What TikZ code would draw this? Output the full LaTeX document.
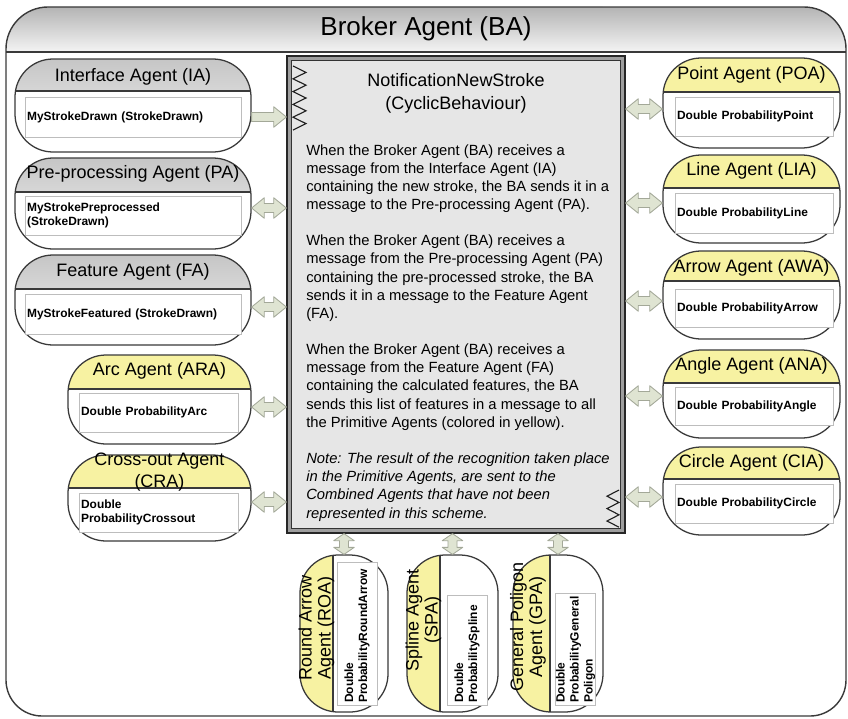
\documentclass[tikz,border=0pt]{standalone}
\usepackage{fontspec}
\setmainfont{Liberation Sans}
\usetikzlibrary{calc}

\definecolor{agentline}{HTML}{3A3A3A}
\definecolor{hdrgraytop}{HTML}{C6C6C6}
\definecolor{hdrgraybot}{HTML}{F3F3F3}
\definecolor{hdryellow}{HTML}{F7F2A2}
\definecolor{arrowfill}{HTML}{DFE4D2}
\definecolor{arrowline}{HTML}{A3A898}
\definecolor{boxline}{HTML}{BDBDBD}
\definecolor{behavfill}{HTML}{E6E6E6}
\definecolor{behavband}{HTML}{9E9E9E}
\definecolor{bandtop}{HTML}{B4B4B4}
\definecolor{bandbot}{HTML}{F4F4F4}

% block arrows between two points (#1 = head length)
\newcommand{\dblarrow}[3][9pt]{%
  \coordinate (s) at (#2); \coordinate (t) at (#3);
  \draw[blockarrow] (s) -- ($(s)!#1!(t)!7.3pt!90:(t)$) -- ($(s)!#1!(t)!3.2pt!90:(t)$)
    -- ($(t)!#1!(s)!3.2pt!-90:(s)$) -- ($(t)!#1!(s)!7.3pt!-90:(s)$) -- (t)
    -- ($(t)!#1!(s)!7.3pt!90:(s)$) -- ($(t)!#1!(s)!3.2pt!90:(s)$)
    -- ($(s)!#1!(t)!3.2pt!-90:(t)$) -- ($(s)!#1!(t)!7.3pt!-90:(t)$) -- cycle;}
\newcommand{\sglarrow}[3][9pt]{%
  \coordinate (s) at (#2); \coordinate (t) at (#3);
  \draw[blockarrow] ($(s)!3.2pt!90:(t)$)
    -- ($(t)!#1!(s)!3.2pt!-90:(s)$) -- ($(t)!#1!(s)!7.3pt!-90:(s)$) -- (t)
    -- ($(t)!#1!(s)!7.3pt!90:(s)$) -- ($(t)!#1!(s)!3.2pt!90:(s)$)
    -- ($(s)!3.2pt!-90:(t)$) -- cycle;}

\tikzset{
  sz/.style 2 args={minimum width=#1*0.025cm, minimum height=#2*0.025cm},
  agent/.style={draw=agentline, line width=0.9pt, fill=white, rounded corners=0.95cm, inner sep=0pt},
  graytop/.style={agent, path picture={
      \shade[sharp corners, top color=hdrgraytop, bottom color=hdrgraybot]
        (path picture bounding box.north west) rectangle ([yshift=-#1*0.025cm]path picture bounding box.north east);
      \draw[sharp corners, agentline, line width=0.9pt]
        ([yshift=-#1*0.025cm]path picture bounding box.north west) -- ([yshift=-#1*0.025cm]path picture bounding box.north east);}},
  yellowtop/.style={agent, path picture={
      \fill[sharp corners, hdryellow]
        (path picture bounding box.north west) rectangle ([yshift=-#1*0.025cm]path picture bounding box.north east);
      \draw[sharp corners, agentline, line width=0.9pt]
        ([yshift=-#1*0.025cm]path picture bounding box.north west) -- ([yshift=-#1*0.025cm]path picture bounding box.north east);}},
  yellowleft/.style={agent, path picture={
      \fill[sharp corners, hdryellow]
        (path picture bounding box.south west) rectangle ([xshift=#1*0.025cm]path picture bounding box.north west);
      \draw[sharp corners, agentline, line width=0.9pt]
        ([xshift=#1*0.025cm]path picture bounding box.south west) -- ([xshift=#1*0.025cm]path picture bounding box.north west);}},
  inbox/.style 2 args={draw=boxline, fill=white, line width=0.6pt, inner xsep=1.5pt, inner ysep=0pt,
      text width=#1*0.025cm-3pt, minimum height=#2*0.025cm, align=left,
      font=\fontsize{8.5}{10}\selectfont\bfseries},
  titletext/.style={inner sep=0pt, align=center, font=\fontsize{12.8}{16}\selectfont},
  sidetitle/.style={inner sep=0pt, align=center, rotate=90, font=\fontsize{12.8}{13.5}\selectfont},
  bodytext/.style={inner sep=0pt, anchor=base west, font=\fontsize{10.5}{12.9}\selectfont},
  behav/.style={draw=gray!30!black, fill=behavband, line width=0.9pt, inner sep=0pt},
  behavinner/.style={draw=gray!40!black, fill=behavfill, line width=0.7pt},
  blockarrow/.style={draw=arrowline, fill=arrowfill, line width=0.6pt, line join=round},
  zigzag/.style={draw=gray!25!black, line width=0.8pt},
}

\begin{document}
\begin{tikzpicture}[x=0.025cm, y=-0.025cm]
\useasboundingbox (0,0) rectangle (848,718);

% broker agent frame
\fill[white] (6,49) arc[start angle=180, end angle=90, radius=1.05cm] -- (804,7)
  arc[start angle=90, end angle=0, radius=1.05cm] -- (846,680)
  arc[start angle=0, end angle=-90, radius=0.9cm] -- (42,716)
  arc[start angle=270, end angle=180, radius=0.9cm] -- cycle;
\shade[top color=bandtop, bottom color=bandbot] (6,49) arc[start angle=180, end angle=90, radius=1.05cm] -- (804,7)
  arc[start angle=90, end angle=0, radius=1.05cm] -- (846,52) -- (6,52) -- cycle;
\draw[agentline, line width=0.9pt] (6,52) -- (846,52);
\draw[agentline, line width=1pt] (6,49) arc[start angle=180, end angle=90, radius=1.05cm] -- (804,7)
  arc[start angle=90, end angle=0, radius=1.05cm] -- (846,680)
  arc[start angle=0, end angle=-90, radius=0.9cm] -- (42,716)
  arc[start angle=270, end angle=180, radius=0.9cm] -- cycle;
\node[inner sep=0pt, font=\fontsize{18.5}{22}\selectfont] (BA) at (426,29) {Broker Agent (BA)};

% behaviour box
\node[behav, sz={338}{477}] (NNS) at (456,294.5) {};
\draw[behavinner] ([shift={(5,5)}]NNS.north west) rectangle ([shift={(-5,-5)}]NNS.south east);
\draw[zigzag] (293,66) \foreach \i in {1,...,5} { -- ++(13,6.4) -- ++(-13,6.4) };
\draw[zigzag] (619,490) \foreach \i in {1,...,3} { -- ++(-12,6.2) -- ++(12,6.2) };
\node[titletext] (NNS-t) at (456,93.5) {NotificationNewStroke\\(CyclicBehaviour)};
\foreach \txt [count=\i from 0] in {
    {When the Broker Agent (BA) receives a},
    {message from the Interface Agent (IA)},
    {containing the new stroke, the BA sends it in a},
    {message to the Pre-processing Agent (PA).},
    {},
    {When the Broker Agent (BA) receives a},
    {message from the Pre-processing Agent (PA)},
    {containing the pre-processed stroke, the BA},
    {sends it in a message to the Feature Agent},
    {(FA).},
    {},
    {When the Broker Agent (BA) receives a},
    {message from the Feature Agent (FA)},
    {containing the calculated features, the BA},
    {sends this list of features in a message to all},
    {the Primitive Agents (colored in yellow).}}
  \node[bodytext] (l\i) at (306,155+\i*18.15) {\txt};
\foreach \txt [count=\i from 17] in {
    {Note: The result of the recognition taken place},
    {in the Primitive Agents, are sent to the},
    {Combined Agents that have not been},
    {represented in this scheme.}}
  \node[bodytext, font=\fontsize{10.5}{12.9}\selectfont\itshape] (l\i) at (306,155+\i*18.15) {\txt};

% left agents
\node[graytop=32, sz={236}{93}] (IA) at (133,105.5) {};
\node[titletext] (IA-t) at (133,77) {Interface Agent (IA)};
\node[inbox={216}{40}] (IA-b) at (133,117) {MyStrokeDrawn (StrokeDrawn)};

\node[graytop=34, sz={236}{91}] (PA) at (133,203.5) {};
\node[titletext] (PA-t) at (133,174) {Pre-processing Agent (PA)};
\node[inbox={216}{39}] (PA-b) at (133,215.5) {MyStrokePreprocessed\\(StrokeDrawn)};

\node[graytop=34, sz={236}{90}] (FA) at (133,300) {};
\node[titletext] (FA-t) at (133,272) {Feature Agent (FA)};
\node[inbox={216}{40}] (FA-b) at (133,314) {MyStrokeFeatured (StrokeDrawn)};

\node[yellowtop=34, sz={183}{89}] (ARA) at (159.5,399.5) {};
\node[titletext] (ARA-t) at (159.5,371) {Arc Agent (ARA)};
\node[inbox={159}{39}] (ARA-b) at (158.5,412.5) {Double ProbabilityArc};

\node[yellowtop=33, sz={183}{86}] (CRA) at (159.5,498) {};
\node[titletext] (CRA-t) at (159.5,472) {Cross-out Agent\\(CRA)};
\node[inbox={159}{39}] (CRA-b) at (158.5,512.5) {Double\\ProbabilityCrossout};

% right agents
\node[yellowtop=34, sz={177}{90}] (POA) at (751.5,103) {};
\node[titletext] (POA-t) at (751.5,75) {Point Agent (POA)};
\node[inbox={158}{39}] (POA-b) at (754,116.5) {Double ProbabilityPoint};

\node[yellowtop=33, sz={177}{88}] (LIA) at (751.5,199) {};
\node[titletext] (LIA-t) at (751.5,171) {Line Agent (LIA)};
\node[inbox={158}{40}] (LIA-b) at (754,213) {Double ProbabilityLine};

\node[yellowtop=30, sz={177}{88}] (AWA) at (751.5,295) {};
\node[titletext] (AWA-t) at (751.5,268) {Arrow Agent (AWA)};
\node[inbox={158}{38}] (AWA-b) at (754,308) {Double ProbabilityArrow};

\node[yellowtop=33, sz={177}{88}] (ANA) at (751.5,394) {};
\node[titletext] (ANA-t) at (751.5,366) {Angle Agent (ANA)};
\node[inbox={158}{38}] (ANA-b) at (754,406) {Double ProbabilityAngle};

\node[yellowtop=32, sz={177}{88}] (CIA) at (751.5,491) {};
\node[titletext] (CIA-t) at (751.5,463) {Circle Agent (CIA)};
\node[inbox={158}{39}] (CIA-b) at (754,503.5) {Double ProbabilityCircle};

% bottom agents
\node[yellowleft=33, sz={88}{157}] (ROA) at (344,633.5) {};
\node[sidetitle] (ROA-t) at (316.5,628) {Round Arrow\\Agent (ROA)};
\node[inbox={143}{40}, rotate=90] (ROA-b) at (357,633.5) {Double\\ProbabilityRoundArrow};

\node[yellowleft=33, sz={91}{157}] (SPA) at (452.5,633.5) {};
\node[sidetitle] (SPA-t) at (423.5,620) {Spline Agent\\(SPA)};
\node[inbox={110}{40}, rotate=90] (SPA-b) at (467,650) {Double\\ProbabilitySpline};

\node[yellowleft=37, sz={90}{157}] (GPA) at (558,633.5) {};
\node[sidetitle] (GPA-t) at (528,627) {General Poligon\\Agent (GPA)};
\node[inbox={112}{39}, rotate=90] (GPA-b) at (575.5,649) {Double\\ProbabilityGeneral\\Poligon};

% connectors
\sglarrow{IA.east |- 0,117}{NNS.west |- 0,117}
\foreach \n/\y in {PA/208, FA/307, ARA/407, CRA/502}
  {\dblarrow{\n.east |- 0,\y}{NNS.west |- 0,\y}}
\foreach \n/\y in {POA/109, LIA/203, AWA/301, ANA/396, CIA/497}
  {\dblarrow{NNS.east |- 0,\y}{\n.west |- 0,\y}}
\foreach \n in {ROA, SPA, GPA}
  {\dblarrow[5pt]{NNS.south -| \n.north}{\n.north}}
\end{tikzpicture}
\end{document}
